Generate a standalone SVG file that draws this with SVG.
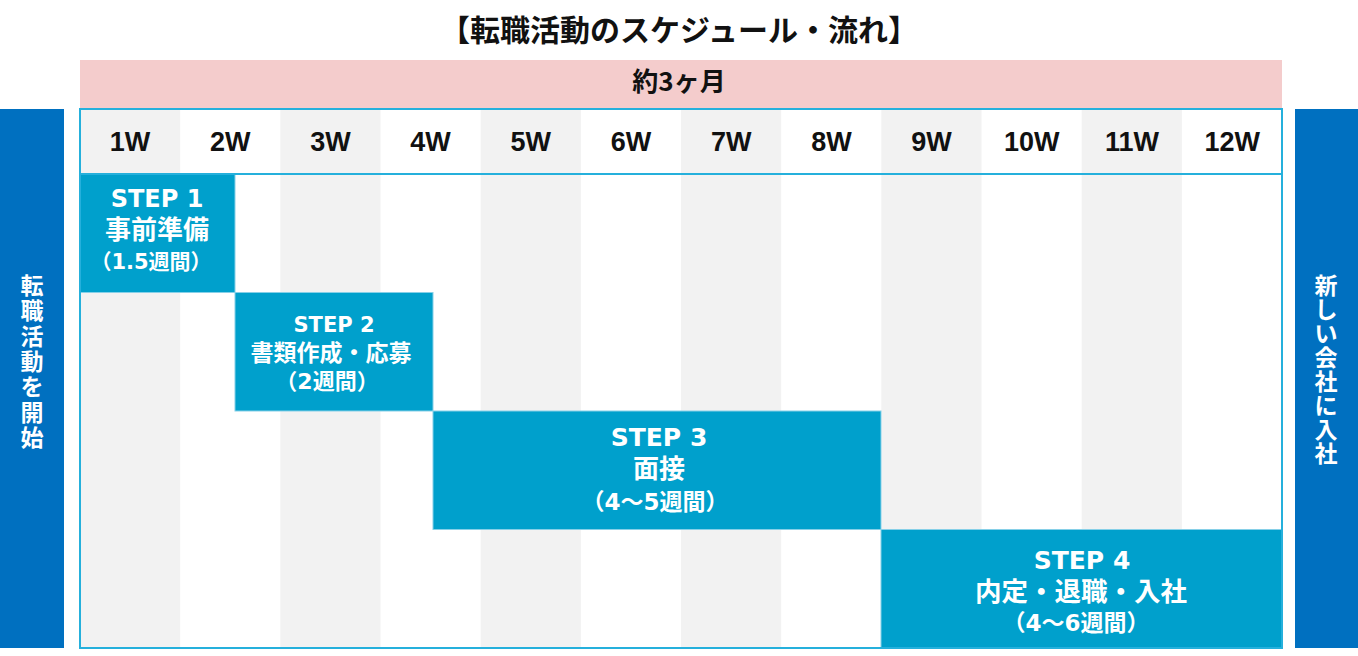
<svg xmlns="http://www.w3.org/2000/svg" width="1358" height="656" viewBox="0 0 1358 656">
<style>
.title{font-family:"Noto Sans CJK JP","Noto Sans CJK SC",sans-serif;font-weight:bold;fill:#111;text-anchor:middle}
.wk{font-family:"Liberation Sans",Arial,sans-serif;font-weight:bold;font-size:27px;fill:#111;text-anchor:middle}
.st{font-family:"DejaVu Sans","Noto Sans CJK JP",sans-serif;font-weight:bold;fill:#fff;text-anchor:middle}
.jp{font-family:"Noto Sans CJK JP",sans-serif;font-weight:bold;fill:#fff;text-anchor:middle}
.box{fill:#00a0cc;stroke:#86d0e8;stroke-width:1}
.side{fill:#0070c0}
.gray{fill:#f2f2f2}
</style>
<rect width="1358" height="656" fill="#fff"/>
<text class="title" x="679" y="41" font-size="30">【転職活動のスケジュール・流れ】</text>
<g id="period">
<rect x="80" y="60" width="1202" height="49" fill="#f4cccc"/>
<text class="title" x="679" y="91" font-size="26">約3ヶ月</text>
</g>
<g id="grid">
<rect class="gray" x="80" y="109" width="100.2" height="539"/>
<rect class="gray" x="280.3" y="109" width="100.2" height="539"/>
<rect class="gray" x="480.7" y="109" width="100.2" height="539"/>
<rect class="gray" x="681" y="109" width="100.2" height="539"/>
<rect class="gray" x="881.3" y="109" width="100.2" height="539"/>
<rect class="gray" x="1081.7" y="109" width="100.2" height="539"/>
<text class="wk" x="130" y="151">1W</text>
<text class="wk" x="230.2" y="151">2W</text>
<text class="wk" x="330.4" y="151">3W</text>
<text class="wk" x="430.6" y="151">4W</text>
<text class="wk" x="530.8" y="151">5W</text>
<text class="wk" x="631" y="151">6W</text>
<text class="wk" x="731.2" y="151">7W</text>
<text class="wk" x="831.4" y="151">8W</text>
<text class="wk" x="931.6" y="151">9W</text>
<text class="wk" x="1031.8" y="151">10W</text>
<text class="wk" x="1132" y="151">11W</text>
<text class="wk" x="1232.2" y="151">12W</text>
</g>
<g id="step1">
<rect class="box" x="80" y="174" width="155" height="118.5"/>
<text class="st" x="157" y="207" font-size="24">STEP 1</text>
<text class="jp" x="157" y="239" font-size="26">事前準備</text>
<text class="st" x="151" y="269" font-size="21">（1.5週間）</text>
</g>
<g id="step2">
<rect class="box" x="235" y="292.5" width="198" height="118.5"/>
<text class="st" x="334" y="332" font-size="21">STEP 2</text>
<text class="jp" x="331" y="361" font-size="23">書類作成・応募</text>
<text class="st" x="327" y="389" font-size="22">（2週間）</text>
</g>
<g id="step3">
<rect class="box" x="433" y="411" width="448" height="118.5"/>
<text class="st" x="659" y="446" font-size="25">STEP 3</text>
<text class="jp" x="659" y="478" font-size="26">面接</text>
<text class="st" x="655" y="510" font-size="23">（4〜5週間）</text>
</g>
<g id="step4">
<rect class="box" x="881" y="529.5" width="401" height="118"/>
<text class="st" x="1082" y="569" font-size="25">STEP 4</text>
<text class="jp" x="1081" y="601" font-size="26.5">内定・退職・入社</text>
<text class="st" x="1076" y="631" font-size="23">（4〜6週間）</text>
</g>
<g id="frame">
<rect x="80" y="109" width="1202" height="539" fill="none" stroke="#25b0dc" stroke-width="2"/>
<line x1="80" y1="174" x2="1282" y2="174" stroke="#25b0dc" stroke-width="2"/>
</g>
<g id="start">
<rect class="side" x="0" y="109" width="64" height="539"/>
<text class="jp" font-size="23"><tspan x="32" y="294">転</tspan><tspan x="32" y="319.3">職</tspan><tspan x="32" y="344.6">活</tspan><tspan x="32" y="369.9">動</tspan><tspan x="32" y="395.2">を</tspan><tspan x="32" y="420.5">開</tspan><tspan x="32" y="445.8">始</tspan></text>
</g>
<g id="join">
<rect class="side" x="1295" y="109" width="63" height="539"/>
<text class="jp" font-size="23"><tspan x="1326" y="294">新</tspan><tspan x="1326" y="318">し</tspan><tspan x="1326" y="342">い</tspan><tspan x="1326" y="366">会</tspan><tspan x="1326" y="390">社</tspan><tspan x="1326" y="414">に</tspan><tspan x="1326" y="438">入</tspan><tspan x="1326" y="462">社</tspan></text>
</g>
<g id="connectors"></g>
</svg>
